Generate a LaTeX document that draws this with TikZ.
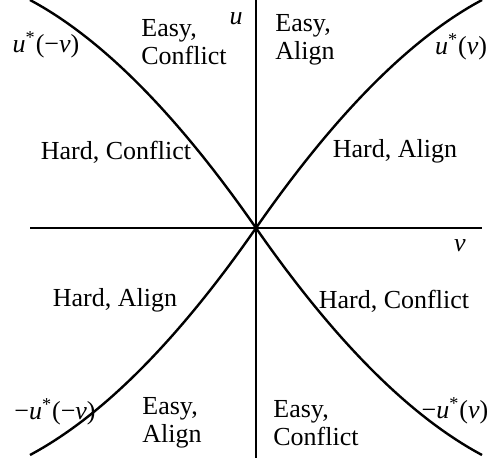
\documentclass[tikz,border=0pt]{standalone}
\usepackage{fontspec}
\setmainfont{Liberation Serif}
\usetikzlibrary{calc}

\newcommand{\ustar}{\textit{u}\textsuperscript{*}}

\begin{document}
\begin{tikzpicture}[x=0.5pt,y=-0.5pt,
  axis/.style={line width=1.2pt},
  curve/.style={line width=1.2pt},
  lbl/.style={inner sep=0pt,align=left,font=\fontsize{13}{14}\selectfont}
]
\useasboundingbox (0,0) rectangle (497,458);
\coordinate (o) at (256,228);
\coordinate (vl) at (30,228);
\coordinate (vr) at (482,228);
\coordinate (ut) at (256,0);
\coordinate (ub) at (256,458);
\draw[axis] (vl) -- (vr);
\draw[axis] (ut) -- (ub);
% the four boundary curves
\coordinate (ur) at (482,0);
\coordinate (ul) at (30,0);
\coordinate (lr) at (482,455);
\coordinate (ll) at (30,455);
\draw[curve] (o) .. controls +(80,-115) and +(-71,38) .. (ur);
\draw[curve] (o) .. controls +(-80,-115) and +(71,38) .. (ul);
\draw[curve] (o) .. controls +(80,115) and +(-71,-38) .. (lr);
\draw[curve] (o) .. controls +(-80,115) and +(71,-38) .. (ll);
% axis names
\node[lbl] (u) at (236,19) {\textit{u}};
\node[lbl] (v) at (460,246) {\textit{v}};
% regions
\node[lbl] (ecul) at (184,42) {Easy,\\Conflict};
\node[lbl] (eaur) at (305,40) {Easy,\\Align};
\node[lbl] (hcl) at (116,152) {Hard, Conflict};
\node[lbl] (har) at (395,151) {Hard, Align};
\node[lbl] (hal) at (115,300) {Hard, Align};
\node[lbl] (hcr) at (394,301) {Hard, Conflict};
\node[lbl] (eall) at (172,423) {Easy,\\Align};
\node[lbl] (eclr) at (316,423) {Easy,\\Conflict};
% curve names
\node[lbl] (cul) at (46,45) {\ustar(−\textit{v})};
\node[lbl] (cur) at (461,47) {\ustar(\textit{v})};
\node[lbl] (cll) at (55,412) {−\ustar(−\textit{v})};
\node[lbl] (clr) at (455,411) {−\ustar(\textit{v})};
\end{tikzpicture}
\end{document}
